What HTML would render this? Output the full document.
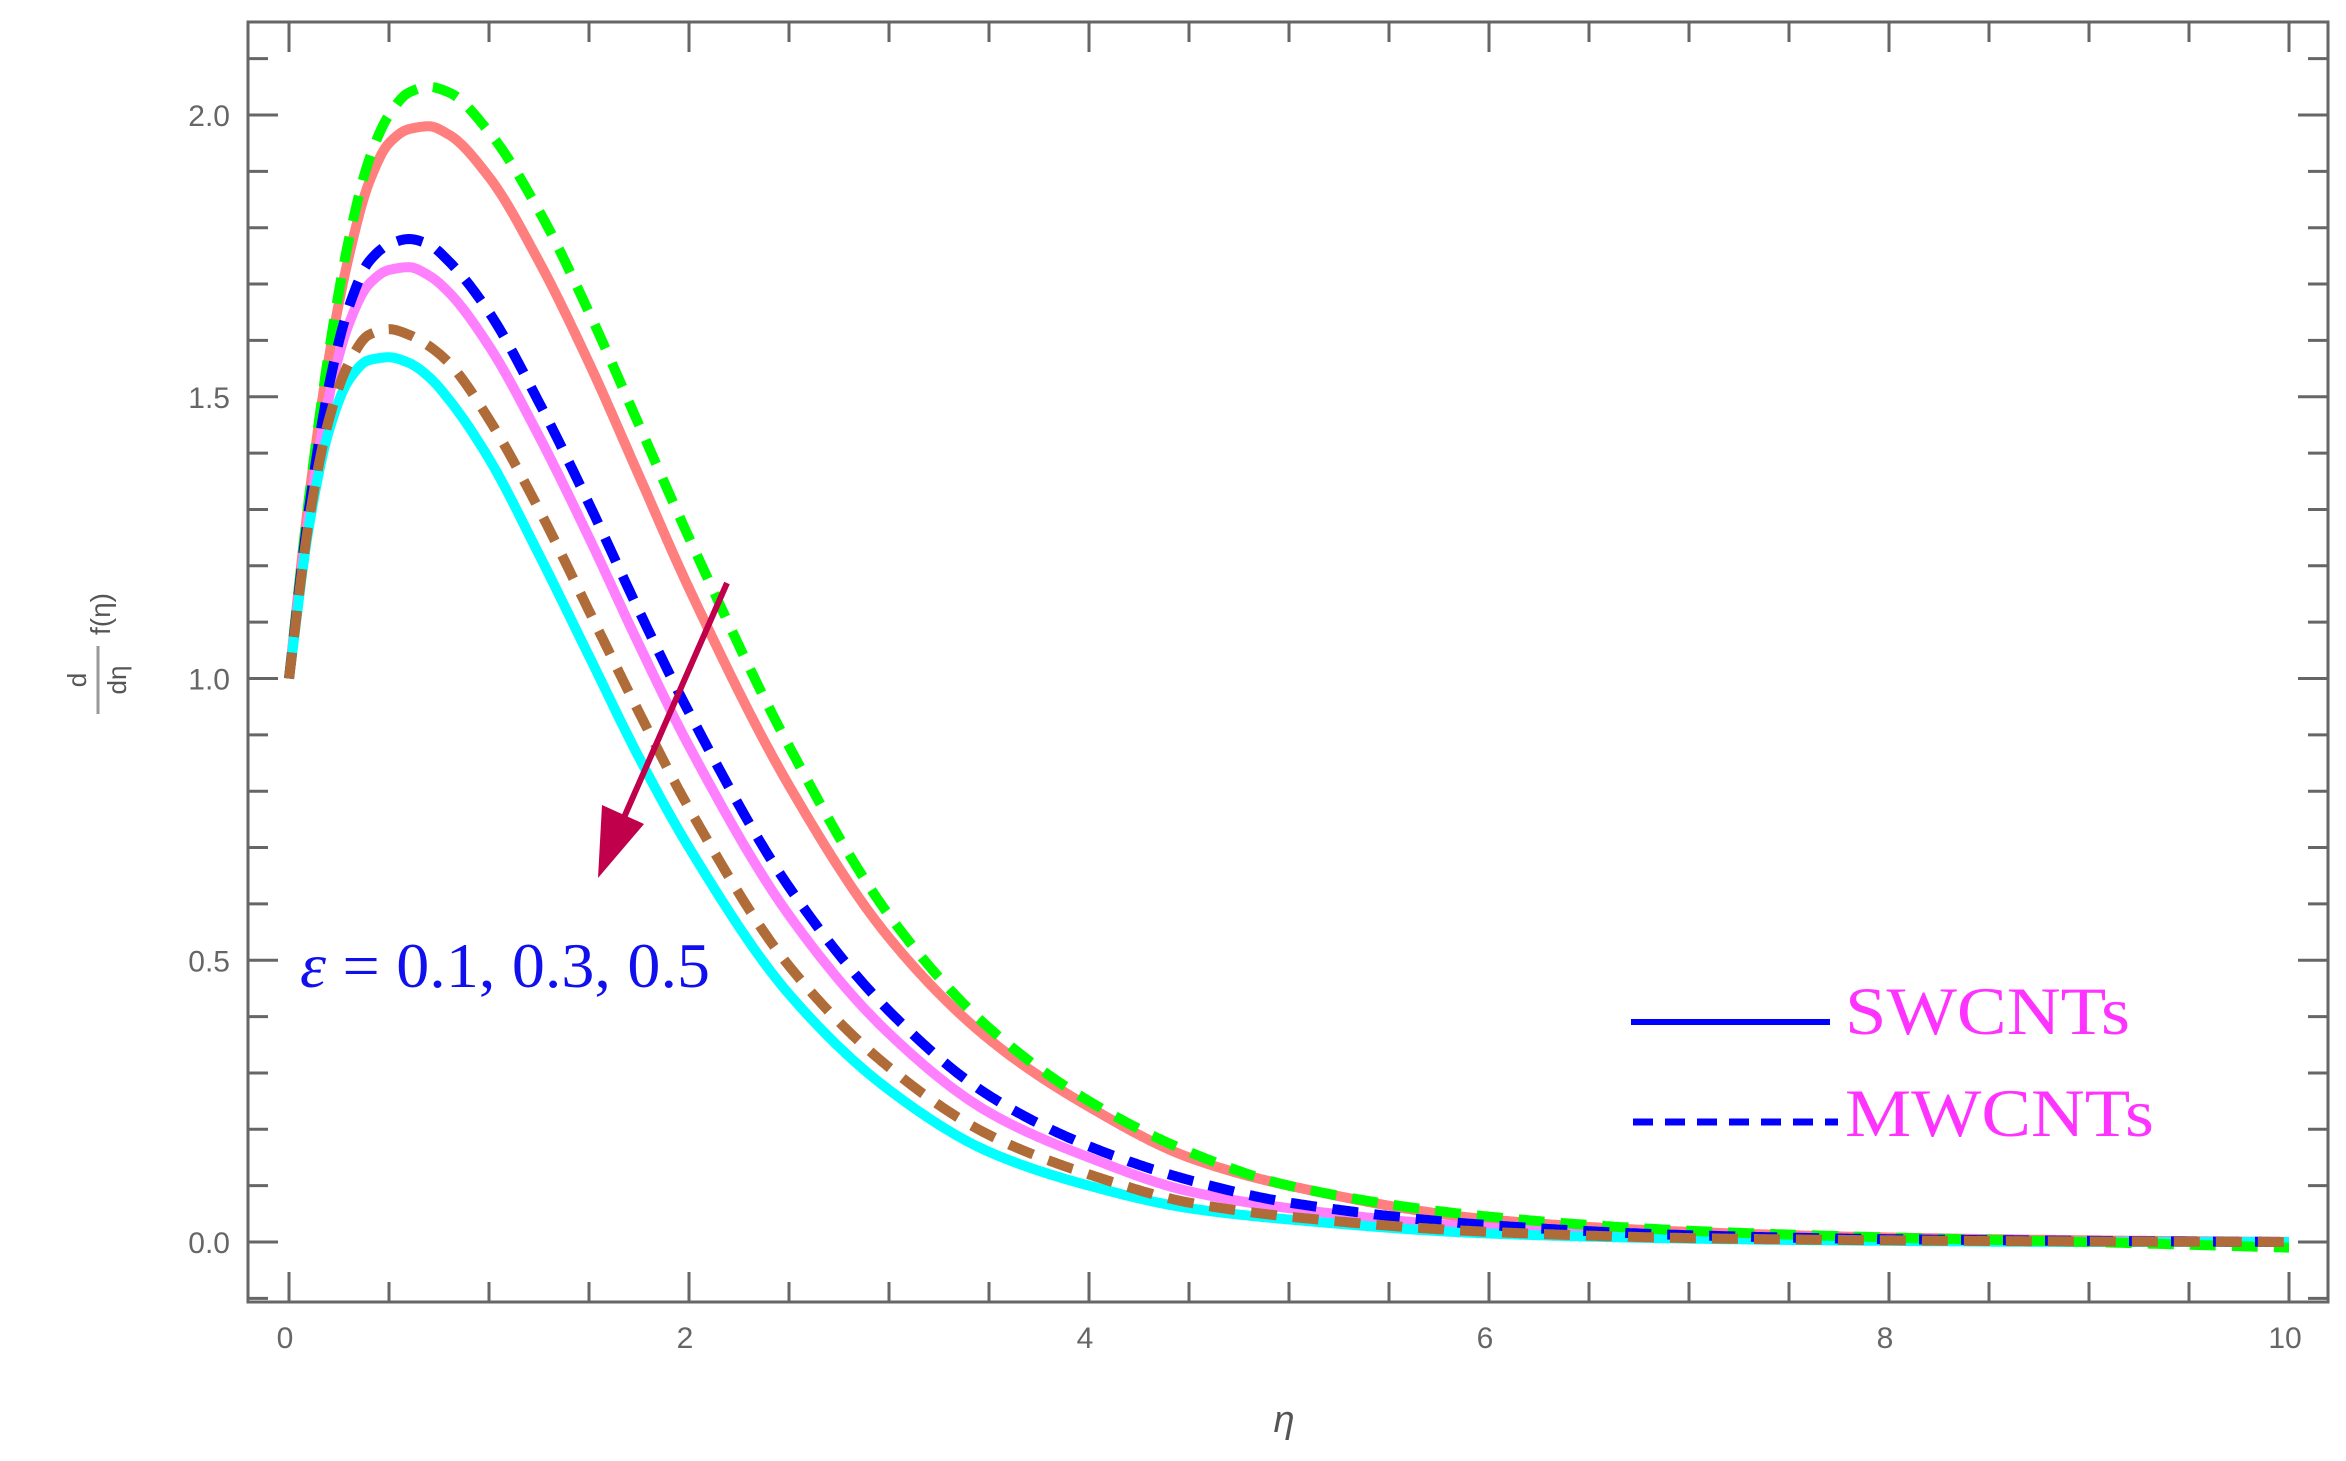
<!DOCTYPE html>
<html><head><meta charset="utf-8"><style>
html,body{margin:0;padding:0;background:#fff;}
svg{display:block;}
text{font-family:"Liberation Sans",sans-serif;}
</style></head><body>
<svg id="c" width="2346" height="1461" viewBox="0 0 2346 1461" xmlns="http://www.w3.org/2000/svg">
<rect x="0" y="0" width="2346" height="1461" fill="#fff"/>
<g id="ticks"></g>
<g id="series"></g>
<rect x="248" y="22" width="2080" height="1280" fill="none" stroke="#666" stroke-width="3"/>
<g>
<line x1="727" y1="583" x2="622" y2="822" stroke="#c0004a" stroke-width="6"/>
<polygon points="598,878 602,805 644,824" fill="#c0004a"/>
</g>
<text x="300" y="987" font-size="64" textLength="410" lengthAdjust="spacingAndGlyphs" fill="#1010ee" style="font-family:'Liberation Serif',serif;"><tspan font-style="italic">ε</tspan> = 0.1, 0.3, 0.5</text>
<g>
<line x1="1631" y1="1022" x2="1830" y2="1022" stroke="#0000ff" stroke-width="6"/>
<text x="1845" y="1034" font-size="68" textLength="285" lengthAdjust="spacingAndGlyphs" fill="#ff33ff" style="font-family:'Liberation Serif',serif;">SWCNTs</text>
<line x1="1633" y1="1122" x2="1838" y2="1122" stroke="#0000ff" stroke-width="7" stroke-dasharray="20,12"/>
<text x="1845" y="1136" font-size="68" textLength="309" lengthAdjust="spacingAndGlyphs" fill="#ff33ff" style="font-family:'Liberation Serif',serif;">MWCNTs</text>
</g>
<g transform="translate(112,680) rotate(-90)" fill="#555">
<text x="0" y="-26" font-size="26" text-anchor="middle">d</text>
<line x1="-34" y1="-14" x2="34" y2="-14" stroke="#999" stroke-width="3"/>
<text x="0" y="14" font-size="26" text-anchor="middle">dη</text>
<text x="66" y="-2" font-size="28" text-anchor="middle">f(η)</text>
</g>
<text x="1284" y="1432" font-size="38" font-style="italic" fill="#555" text-anchor="middle">η</text>
</svg>
<script>
const xs=[0,0.1,0.2,0.3,0.4,0.5,0.6,0.7,0.8,1.0,1.25,1.5,1.75,2,2.5,3,3.5,4,4.5,5,6,7,8,9,10];
const green=[1.0,1.32,1.58,1.78,1.92,2.00,2.04,2.05,2.04,1.97,1.83,1.65,1.45,1.25,0.88,0.58,0.38,0.25,0.16,0.10,0.045,0.02,0.008,0.0,-0.01];
const salmon=[1.0,1.32,1.57,1.75,1.88,1.95,1.975,1.98,1.965,1.89,1.74,1.56,1.36,1.16,0.81,0.54,0.36,0.24,0.15,0.10,0.04,0.018,0.008,0.003,0.0];
const blue=[1.0,1.30,1.52,1.66,1.74,1.77,1.78,1.77,1.74,1.65,1.49,1.31,1.12,0.94,0.63,0.41,0.26,0.17,0.11,0.07,0.03,0.012,0.005,0.002,0.0];
const violet=[1.0,1.29,1.50,1.63,1.70,1.725,1.73,1.715,1.685,1.59,1.43,1.25,1.06,0.88,0.58,0.37,0.23,0.15,0.09,0.06,0.025,0.01,0.004,0.001,0.0];
const brown=[1.0,1.28,1.46,1.56,1.61,1.62,1.61,1.59,1.56,1.46,1.30,1.12,0.94,0.77,0.49,0.31,0.19,0.12,0.07,0.045,0.018,0.007,0.003,0.001,0.0];
const cyan=[1.0,1.27,1.44,1.53,1.565,1.57,1.56,1.535,1.495,1.39,1.22,1.04,0.86,0.70,0.44,0.27,0.16,0.10,0.06,0.04,0.015,0.006,0.002,0.0,0.0];
const xTicks=[0,2,4,6,8,10];
const yTicks=[0.0,0.5,1.0,1.5,2.0];
const NS="http://www.w3.org/2000/svg";
function X(v){return 289+v*200;}
function Y(v){return 1242-v*563.5;}
function mk(t,a,p){const e=document.createElementNS(NS,t);for(const k in a)e.setAttribute(k,a[k]);p.appendChild(e);return e;}
const tg=document.getElementById('ticks');
for(let v=-0.1;v<=2.15;v+=0.1){const r=Math.round(v*10)/10;const major=Math.abs(r*2-Math.round(r*2))<1e-6;const L=major?30:20;
 let t=mk('line',{x1:248,y1:Y(r),x2:248+L,y2:Y(r),stroke:'#666','stroke-width':3},tg);
 t=mk('line',{x1:2328,y1:Y(r),x2:2328-L,y2:Y(r),stroke:'#666','stroke-width':3},tg);}
for(let v=0;v<=10;v+=0.5){const major=v%2===0;const L=major?30:20;
 let t=mk('line',{x1:X(v),y1:1302,x2:X(v),y2:1302-L,stroke:'#666','stroke-width':3},tg);
 t=mk('line',{x1:X(v),y1:22,x2:X(v),y2:22+L,stroke:'#666','stroke-width':3},tg);}
yTicks.forEach(v=>{const t=mk('text',{x:230,y:Y(v)+11,'font-size':30,fill:'#666','text-anchor':'end'},tg);t.textContent=v.toFixed(1);
 });
xTicks.forEach(v=>{const t=mk('text',{x:X(v)-4,y:1348,'font-size':30,fill:'#666','text-anchor':'middle'},tg);t.textContent=v;
 });
function interp(ys){const n=xs.length,h=[],d=[],m=new Array(n);
 for(let i=0;i<n-1;i++){h[i]=xs[i+1]-xs[i];d[i]=(ys[i+1]-ys[i])/h[i];}
 m[0]=d[0];m[n-1]=d[n-2];
 for(let i=1;i<n-1;i++){if(d[i-1]*d[i]<=0)m[i]=0;else{const w1=2*h[i]+h[i-1],w2=h[i]+2*h[i-1];m[i]=(w1+w2)/(w1/d[i-1]+w2/d[i]);}}
 return function(x){let i=0;while(i<n-2&&x>xs[i+1])i++;const t=(x-xs[i])/h[i],t2=t*t,t3=t2*t;
  return (2*t3-3*t2+1)*ys[i]+(t3-2*t2+t)*h[i]*m[i]+(-2*t3+3*t2)*ys[i+1]+(t3-t2)*h[i]*m[i+1];};}
function path(ys){const f=interp(ys);let d='';for(let k=0;k<=1000;k++){const x=k/100;d+=(k?' L':'M')+X(x).toFixed(1)+','+Y(f(x)).toFixed(1);}return d;}
const sg=document.getElementById('series');
const defs=[[salmon,'#ff7f7f',null,'series-swcnt-eps-0.1'],[violet,'#ff80ff',null,'series-swcnt-eps-0.3'],[cyan,'#00ffff',null,'series-swcnt-eps-0.5'],
 [green,'#00ff00','26,16','series-mwcnt-eps-0.1'],[blue,'#0000ff','26,16','series-mwcnt-eps-0.3'],[brown,'#b06c38','26,16','series-mwcnt-eps-0.5']];
defs.forEach(s=>{const a={d:path(s[0]),fill:'none',stroke:s[1],'stroke-width':10,'stroke-linejoin':'round'};if(s[2])a['stroke-dasharray']=s[2];
 const e=mk('path',a,sg);});
</script>
</body></html>
